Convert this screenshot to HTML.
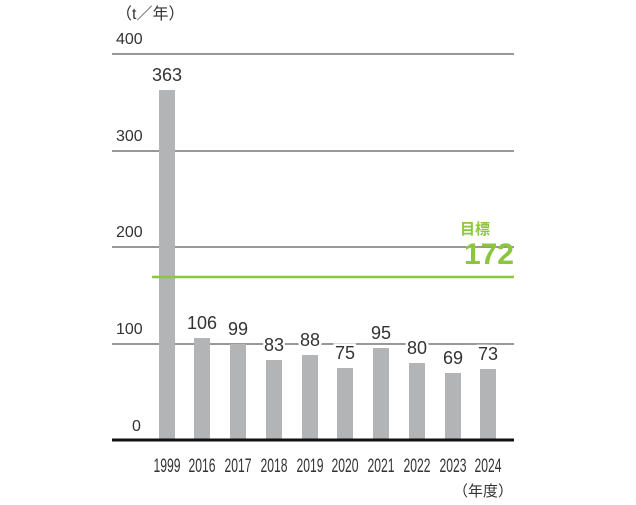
<!DOCTYPE html>
<html><head><meta charset="utf-8"><style>
body{margin:0;background:#fff;}
svg text{font-family:"Liberation Sans","Noto Sans CJK JP",sans-serif;fill:#333;}
</style></head><body>
<svg width="636" height="500" xmlns="http://www.w3.org/2000/svg">
<g stroke="#777" stroke-width="1.5">
<line x1="112" y1="54" x2="514" y2="54"/>
<line x1="112" y1="151" x2="514" y2="151"/>
<line x1="112" y1="247" x2="514" y2="247"/>
<line x1="112" y1="344" x2="514" y2="344"/>
</g>
<g font-size="16">
<text x="116" y="19">（t／年）</text>
<text x="116" y="44">400</text>
<text x="116" y="141">300</text>
<text x="116" y="237">200</text>
<text x="116" y="334">100</text>
<text x="132" y="431">0</text>
</g>
<g fill="#b3b4b6">
<rect x="159" y="90" width="16" height="350"/>
<rect x="194" y="338" width="16" height="102"/>
<rect x="230" y="344" width="16" height="96"/>
<rect x="266" y="360" width="16" height="80"/>
<rect x="302" y="355" width="16" height="85"/>
<rect x="337" y="368" width="16" height="72"/>
<rect x="373" y="348" width="16" height="92"/>
<rect x="409" y="363" width="16" height="77"/>
<rect x="445" y="373" width="16" height="67"/>
<rect x="480" y="369" width="16" height="71"/>
</g>
<line x1="152" y1="277" x2="514" y2="277" stroke="#8cc63f" stroke-width="2.5"/>
<text x="460" y="234" font-size="15" font-weight="bold" style="fill:#8cc63f">目標</text>
<text x="514" y="264" font-size="30" font-weight="bold" text-anchor="end" style="fill:#8cc63f">172</text>
<g font-size="18" text-anchor="middle" stroke="#fff" stroke-width="5" paint-order="stroke">
<text x="167" y="81">363</text>
<text x="202" y="329">106</text>
<text x="238" y="335">99</text>
<text x="274" y="351">83</text>
<text x="310" y="346">88</text>
<text x="345" y="359">75</text>
<text x="381" y="339">95</text>
<text x="417" y="354">80</text>
<text x="453" y="364">69</text>
<text x="488" y="360">73</text>
</g>
<line x1="112" y1="440" x2="514" y2="440" stroke="#111" stroke-width="3"/>
<g font-size="19" text-anchor="middle">
<text x="167" y="472" textLength="27" lengthAdjust="spacingAndGlyphs">1999</text>
<text x="202" y="472" textLength="27" lengthAdjust="spacingAndGlyphs">2016</text>
<text x="238" y="472" textLength="27" lengthAdjust="spacingAndGlyphs">2017</text>
<text x="274" y="472" textLength="27" lengthAdjust="spacingAndGlyphs">2018</text>
<text x="310" y="472" textLength="27" lengthAdjust="spacingAndGlyphs">2019</text>
<text x="345" y="472" textLength="27" lengthAdjust="spacingAndGlyphs">2020</text>
<text x="381" y="472" textLength="27" lengthAdjust="spacingAndGlyphs">2021</text>
<text x="417" y="472" textLength="27" lengthAdjust="spacingAndGlyphs">2022</text>
<text x="453" y="472" textLength="27" lengthAdjust="spacingAndGlyphs">2023</text>
<text x="488" y="472" textLength="27" lengthAdjust="spacingAndGlyphs">2024</text>
</g>
<text x="453" y="496" font-size="15">（年度）</text>
</svg>
</body></html>
